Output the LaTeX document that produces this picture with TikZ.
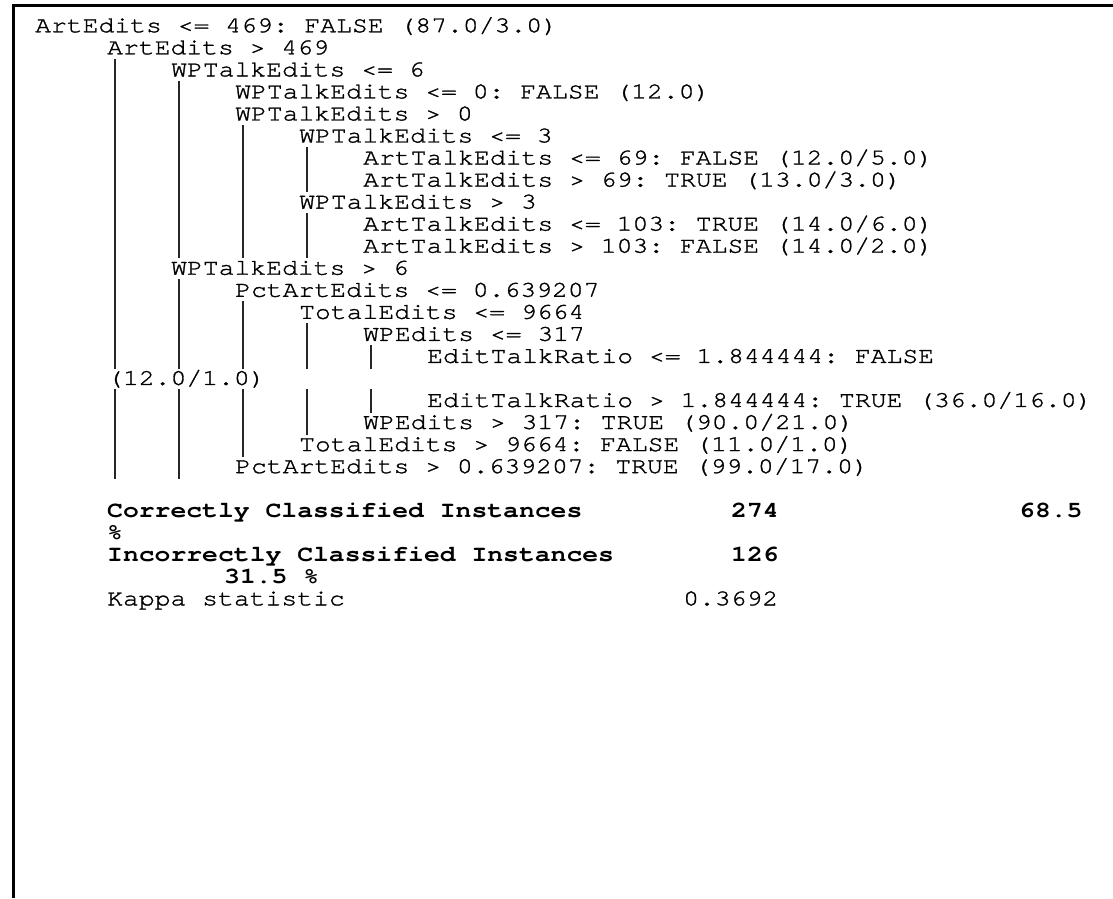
\documentclass[tikz,border=0pt]{standalone}
\usepackage{fontspec}
\setmonofont[Ligatures=NoCommon, FakeBold=1.2,
  BoldFeatures={FakeBold=0, Ligatures=NoCommon}]{TeX Gyre Cursor}
\usetikzlibrary{positioning, calc}
\newcommand{\treebar}[3]{\draw[treebar] ($(#1 |- #2.base)+(0,-20.5)$) -- ($(#1 |- #3.base)+(0,6.5)$);}
\frenchspacing

\begin{document}
\begin{tikzpicture}[
        x=1pt, y=-1pt, yscale=0.861,
        txt/.style={anchor=base west, inner sep=0pt, transform shape,
                    font=\ttfamily\fontsize{26.4pt}{25.6pt}\selectfont},
        res/.style={txt, font=\ttfamily\bfseries\fontsize{26.4pt}{25.6pt}\selectfont},
        treebar/.style={line width=1.1pt, black!85},
        frame/.style={line width=3pt},
      ]
        \useasboundingbox (0,0) rectangle (1113,1043);
        \draw[frame] (13.5,1043) -- (13.5,6.5) -- (1113,6.5);
        % tree lines
        \node[txt] (l1)  at (35,37.5)   {ArtEdits <= 469: FALSE (87.0/3.0)};
        \node[txt] (l2)  at (107,63.1)  {ArtEdits > 469};
        \node[txt] (l3)  at (171,88.7)  {WPTalkEdits <= 6};
        \node[txt] (l4)  at (235,114.3) {WPTalkEdits <= 0: FALSE (12.0)};
        \node[txt] (l5)  at (235,139.9) {WPTalkEdits > 0};
        \node[txt] (l6)  at (299,165.5) {WPTalkEdits <= 3};
        \node[txt] (l7)  at (363,191.1) {ArtTalkEdits <= 69: FALSE (12.0/5.0)};
        \node[txt] (l8)  at (363,216.7) {ArtTalkEdits > 69: TRUE (13.0/3.0)};
        \node[txt] (l9)  at (299,242.3) {WPTalkEdits > 3};
        \node[txt] (l10) at (363,267.9) {ArtTalkEdits <= 103: TRUE (14.0/6.0)};
        \node[txt] (l11) at (363,293.5) {ArtTalkEdits > 103: FALSE (14.0/2.0)};
        \node[txt] (l12) at (171,319.1) {WPTalkEdits > 6};
        \node[txt] (l13) at (235,344.7) {PctArtEdits <= 0.639207};
        \node[txt] (l14) at (299,370.3) {TotalEdits <= 9664};
        \node[txt] (l15) at (363,395.9) {WPEdits <= 317};
        \node[txt] (l16) at (427,421.5) {EditTalkRatio <= 1.844444: FALSE};
        \node[txt] (l17) at (107,447.1) {(12.0/1.0)};
        \node[txt] (l18) at (427,472.7) {EditTalkRatio > 1.844444: TRUE (36.0/16.0)};
        \node[txt] (l19) at (363,498.3) {WPEdits > 317: TRUE (90.0/21.0)};
        \node[txt] (l20) at (299,523.9) {TotalEdits > 9664: FALSE (11.0/1.0)};
        \node[txt] (l21) at (235,549.5) {PctArtEdits > 0.639207: TRUE (99.0/17.0)};
        % bars
        \coordinate (b0) at (115,0);
        \coordinate (b1) at (179,0);
        \coordinate (b2) at (243,0);
        \coordinate (b3) at (307,0);
        \coordinate (b4) at (371,0);
        \treebar{b0}{l3}{l16}  \treebar{b0}{l18}{l21}
        \treebar{b1}{l4}{l11}  \treebar{b1}{l13}{l16} \treebar{b1}{l18}{l21}
        \treebar{b2}{l6}{l11}  \treebar{b2}{l14}{l16} \treebar{b2}{l18}{l20}
        \treebar{b3}{l7}{l8}   \treebar{b3}{l10}{l11}
        \treebar{b3}{l15}{l16} \treebar{b3}{l18}{l19}
        \treebar{b4}{l16}{l16} \treebar{b4}{l18}{l18}
        % summary
        \node[res] (cci)  at (107,600.7) {Correctly Classified Instances};
        \node[res] (ccn)  at (731,600.7) {274};
        \node[res] (ccp)  at (1019,600.7) {68.5};
        \node[res] (ccs)  at (107,626.3) {\%};
        \node[res] (ici)  at (107,651.9) {Incorrectly Classified Instances};
        \node[res] (icn)  at (731,651.9) {126};
        \node[res] (icp)  at (224,677.5) {31.5 \%};
        \node[txt] (kap)  at (107,703.1) {Kappa statistic};
        \node[txt] (kapn) at (683,703.1) {0.3692};
      \end{tikzpicture}
\end{document}
